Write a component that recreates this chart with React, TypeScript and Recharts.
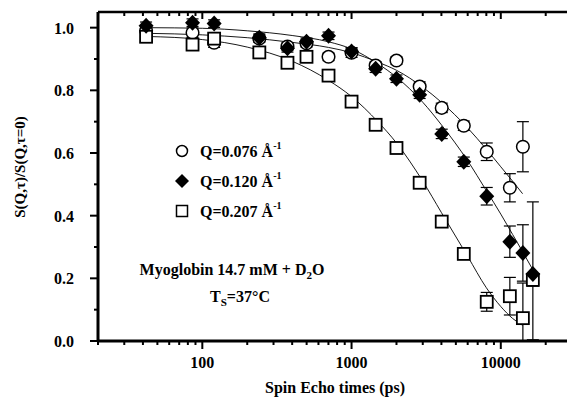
import React from 'react';
import {
  ComposedChart,
  Scatter,
  Line,
  XAxis,
  YAxis,
  ErrorBar,
  Customized,
} from 'recharts';

// spin echo times (ps) of the measured points
const times = [42, 86, 120, 241, 372, 499, 701, 1000, 1450, 2000, 2860, 4020, 5650, 8050, 11500, 14060, 16400];

const q076 = [0.99, 0.984, 0.952, 0.965, 0.94, 0.95, 0.907, 0.92, 0.879, 0.895, 0.812, 0.744, 0.687, 0.604, 0.489, 0.62];
const q076Err = [0.015, 0.015, 0.015, 0.012, 0.012, 0.012, 0.012, 0.015, 0.012, 0.012, 0.015, 0.015, 0.015, 0.028, 0.045, 0.08];

const q120 = [1.006, 1.016, 1.013, 0.968, 0.934, 0.955, 0.974, 0.924, 0.869, 0.837, 0.786, 0.661, 0.572, 0.462, 0.317, 0.281, 0.214];
const q120Err: (number | number[])[] = [0.012, 0.012, 0.012, 0.012, 0.012, 0.012, 0.012, 0.012, 0.012, 0.012, 0.012, 0.015, 0.015, 0.028, 0.05, 0.09, [0.21, 0.23]];

const q207 = [0.971, 0.946, 0.965, 0.921, 0.888, 0.907, 0.847, 0.764, 0.69, 0.616, 0.505, 0.381, 0.278, 0.125, 0.143, 0.073, 0.195];
const q207Err: (number | number[])[] = [0.015, 0.018, 0.015, 0.012, 0.012, 0.012, 0.012, 0.012, 0.012, 0.012, 0.012, 0.012, 0.015, 0.03, 0.06, [0.073, 0.112], 0.02];

// fitted curves
const fitTimes = [42, 100, 200, 400, 700, 1000, 1500, 2000, 3000, 4000, 6000, 8000, 10000, 12000, 14000, 16500];
const fit076 = [0.982, 0.977, 0.968, 0.953, 0.937, 0.92, 0.89, 0.864, 0.81, 0.762, 0.68, 0.612, 0.556, 0.51, 0.47];
const fit120 = [1.0, 0.998, 0.99, 0.975, 0.955, 0.932, 0.885, 0.842, 0.762, 0.69, 0.575, 0.48, 0.405, 0.34, 0.285, 0.225];
const fit207 = [0.972, 0.962, 0.938, 0.893, 0.832, 0.78, 0.7, 0.632, 0.51, 0.41, 0.27, 0.17, 0.11, 0.072, 0.05];

const xTicks = [20, 30, 40, 50, 60, 70, 80, 90, 100, 200, 300, 400, 500, 600, 700, 800, 900, 1000,
  2000, 3000, 4000, 5000, 6000, 7000, 8000, 9000, 10000, 20000, 30000];
const xMajor = [100, 1000, 10000];
const yTicks = [0, 0.1, 0.2, 0.3, 0.4, 0.5, 0.6, 0.7, 0.8, 0.9, 1.0];

const FONT = '"Liberation Serif", "Times New Roman", serif';

const pts = (vals: number[], errs: (number | number[])[]) =>
  vals.map((v, i) => ({ t: times[i], v, err: errs[i] }));
const fit = (vals: number[]) => vals.map((v, i) => ({ t: fitTimes[i], v }));

const OpenCircle = (p: any) => (
  <circle cx={p.cx} cy={p.cy} r={6.3} fill="#fff" stroke="#000" strokeWidth={1.5} />
);
const Diamond = (p: any) => (
  <polygon
    points={`${p.cx},${p.cy - 8} ${p.cx + 7.5},${p.cy} ${p.cx},${p.cy + 8} ${p.cx - 7.5},${p.cy}`}
    fill="#000"
  />
);
const OpenSquare = (p: any) => (
  <rect x={p.cx - 6} y={p.cy - 6} width={12} height={12} fill="#fff" stroke="#000" strokeWidth={1.8} />
);

const BottomTick = ({ x, y, payload }: any) => {
  const major = xMajor.includes(payload.value);
  return (
    <g>
      <line x1={x} y1={y} x2={x} y2={y + (major ? 8 : 4)} stroke="#000" strokeWidth={2} />
      {major && (
        <text x={x} y={y + 27} textAnchor="middle" fontFamily={FONT} fontWeight="bold" fontSize={16} fill="#000">
          {payload.value}
        </text>
      )}
    </g>
  );
};

const TopTick = ({ x, y, payload }: any) => {
  const major = xMajor.includes(payload.value);
  return <line x1={x} y1={y} x2={x} y2={y + (major ? 7 : 4)} stroke="#000" strokeWidth={2} />;
};

const isMajorY = (v: number) => Math.round(v * 10) % 2 === 0;

const LeftTick = ({ x, y, payload }: any) => {
  const major = isMajorY(payload.value);
  return (
    <g>
      <line x1={x - (major ? 8 : 4)} y1={y} x2={x} y2={y} stroke="#000" strokeWidth={2} />
      {major && (
        <text x={x - 24} y={y + 6} textAnchor="end" fontFamily={FONT} fontWeight="bold" fontSize={16} fill="#000">
          {payload.value.toFixed(1)}
        </text>
      )}
    </g>
  );
};

const RightTick = ({ x, y, payload }: any) => {
  const major = isMajorY(payload.value);
  return <line x1={x - (major ? 7 : 4)} y1={y} x2={x} y2={y} stroke="#000" strokeWidth={2} />;
};

const Annotations = () => {
  const txt = { fontFamily: FONT, fontWeight: 'bold' as const, fill: '#000' };
  const rows = [
    { y: 151, label: 'Q=0.076 Å', mark: <circle cx={182} cy={151} r={5.5} fill="#fff" stroke="#000" strokeWidth={1.5} /> },
    { y: 181, label: 'Q=0.120 Å', mark: <polygon points="182,174 189,181 182,188 175,181" fill="#000" /> },
    { y: 211, label: 'Q=0.207 Å', mark: <rect x={176.5} y={205.5} width={11} height={11} fill="#fff" stroke="#000" strokeWidth={1.5} /> },
  ];
  return (
    <g>
      {rows.map((r) => (
        <g key={r.label}>
          {r.mark}
          <text x={200} y={r.y + 6} fontSize={16} {...txt}>
            {r.label}
            <tspan fontSize={10} dy={-8}>-1</tspan>
          </text>
        </g>
      ))}
      <text x={232} y={275} textAnchor="middle" fontSize={16} {...txt}>
        Myoglobin 14.7 mM + D
        <tspan fontSize={11} dy={4}>2</tspan>
        <tspan dy={-4}>O</tspan>
      </text>
      <text x={240} y={302} textAnchor="middle" fontSize={16} {...txt}>
        T<tspan fontSize={11} dy={4}>S</tspan>
        <tspan dy={-4}>=37°C</tspan>
      </text>
      <text x={335} y={393} textAnchor="middle" fontSize={16} {...txt}>
        Spin Echo times (ps)
      </text>
      <text x={25} y={167} textAnchor="middle" fontSize={15} transform="rotate(-90 25 167)" {...txt}>
        S(Q,τ)/S(Q,τ=0)
      </text>
    </g>
  );
};

export default function App() {
  return (
    <div style={{ position: 'fixed', left: 0, top: 0, width: 567, height: 400, overflow: 'hidden', background: '#fff' }}>
      <ComposedChart width={580} height={400} margin={{ top: 11, right: 7, bottom: 58, left: 97 }}>
        <XAxis
          xAxisId="b"
          dataKey="t"
          type="number"
          scale="log"
          domain={[20, 30000]}
          ticks={xTicks}
          interval={0}
          height={1}
          tickSize={0}
          tickMargin={0}
          tick={<BottomTick />}
          axisLine={{ stroke: '#000', strokeWidth: 3 }}
          allowDataOverflow
        />
        <XAxis
          xAxisId="top"
          orientation="top"
          dataKey="t"
          type="number"
          scale="log"
          domain={[20, 30000]}
          ticks={xTicks}
          interval={0}
          height={1}
          tickSize={0}
          tickMargin={0}
          tick={<TopTick />}
          axisLine={{ stroke: '#000', strokeWidth: 2.5 }}
          allowDataOverflow
        />
        <YAxis
          yAxisId="l"
          type="number"
          domain={[0, 1.05]}
          ticks={yTicks}
          interval={0}
          width={1}
          tickSize={0}
          tickMargin={0}
          tick={<LeftTick />}
          axisLine={{ stroke: '#000', strokeWidth: 3 }}
        />
        <YAxis
          yAxisId="r"
          orientation="right"
          type="number"
          domain={[0, 1.05]}
          ticks={yTicks}
          interval={0}
          width={1}
          tickSize={0}
          tickMargin={0}
          tick={<RightTick />}
          axisLine={{ stroke: '#000', strokeWidth: 3 }}
        />

        <Line xAxisId="b" yAxisId="l" data={fit(fit076)} dataKey="v" type="monotone" dot={false} stroke="#000" strokeWidth={0.9} isAnimationActive={false} />
        <Line xAxisId="b" yAxisId="l" data={fit(fit120)} dataKey="v" type="monotone" dot={false} stroke="#000" strokeWidth={0.9} isAnimationActive={false} />
        <Line xAxisId="b" yAxisId="l" data={fit(fit207)} dataKey="v" type="monotone" dot={false} stroke="#000" strokeWidth={0.9} isAnimationActive={false} />

        <Scatter xAxisId="b" yAxisId="l" data={pts(q076, q076Err)} dataKey="v" shape={<OpenCircle />} isAnimationActive={false}>
          <ErrorBar dataKey="err" direction="y" width={6} stroke="#000" strokeWidth={1.2} />
        </Scatter>
        <Scatter xAxisId="b" yAxisId="l" data={pts(q207, q207Err)} dataKey="v" shape={<OpenSquare />} isAnimationActive={false}>
          <ErrorBar dataKey="err" direction="y" width={6} stroke="#000" strokeWidth={1.2} />
        </Scatter>
        <Scatter xAxisId="b" yAxisId="l" data={pts(q120, q120Err)} dataKey="v" shape={<Diamond />} isAnimationActive={false}>
          <ErrorBar dataKey="err" direction="y" width={6} stroke="#000" strokeWidth={1.2} />
        </Scatter>

        <Customized component={<Annotations />} />
      </ComposedChart>
    </div>
  );
}
